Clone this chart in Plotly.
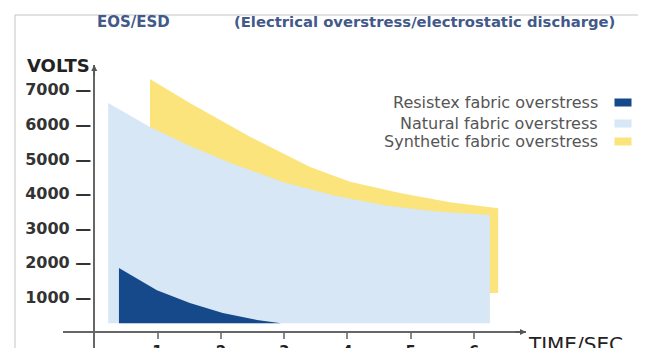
import plotly.graph_objects as go

# -------------------------
# DATA
# -------------------------
BASE_VOLTS = 250

natural_time = [0.22, 0.88, 1.5, 2.2, 3.0, 3.8, 4.6, 5.4, 6.25]
natural_volts = [6620, 5925, 5380, 4850, 4320, 3940, 3660, 3480, 3380]

synthetic_time = [0.88, 1.51, 2.46, 3.41, 4.04, 4.83, 5.62, 6.38]
synthetic_volts = [7310, 6620, 5640, 4770, 4340, 4020, 3750, 3580]
synthetic_low = 1130

resistex_time = [0.39, 0.99, 1.51, 2.03, 2.57, 2.95]
resistex_volts = [1850, 1210, 840, 550, 350, 250]

x_ticks = [1, 2, 3, 4, 5, 6]
y_ticks = [1000, 2000, 3000, 4000, 5000, 6000, 7000]

series_names = ['Resistex fabric overstress', 'Natural fabric overstress', 'Synthetic fabric overstress']
series_colors = ['#15498a', '#d7e7f6', '#fbe47c']

FONT = 'DejaVu Sans'


def closed_area(t, v, low):
    # top curve left -> right, then back along the bottom
    xs = [t[0]] + list(t) + [t[-1], t[0]]
    ys = [low] + list(v) + [low, low]
    return xs, ys


fig = go.Figure()

sx, sy = closed_area(synthetic_time, synthetic_volts, synthetic_low)
nx, ny = closed_area(natural_time, natural_volts, BASE_VOLTS)
rx, ry = closed_area(resistex_time, resistex_volts, BASE_VOLTS)

for xs, ys, name, color in [(sx, sy, series_names[2], series_colors[2]),
                            (nx, ny, series_names[1], series_colors[1]),
                            (rx, ry, series_names[0], series_colors[0])]:
    fig.add_trace(go.Scatter(
        x=xs, y=ys, name=name,
        mode='lines', fill='toself', fillcolor=color,
        line=dict(width=0, color=color),
        showlegend=False, hoverinfo='name'
    ))

# -------------------------
# TEXT / LEGEND
# -------------------------
ann = []
ann.append(dict(text='EOS/ESD', x=0.069, y=1.152, xref='paper', yref='paper',
                xanchor='left', yanchor='middle', showarrow=False,
                font=dict(family=FONT, size=15, color='#42598a', weight='bold')))
ann.append(dict(text='(Electrical overstress/electrostatic discharge)', x=0.365, y=1.152,
                xref='paper', yref='paper', xanchor='left', yanchor='middle', showarrow=False,
                font=dict(family=FONT, size=14.8, color='#42598a', weight='bold')))
ann.append(dict(text='VOLTS', x=0.0626, y=0.9965, xref='paper', yref='paper',
                xanchor='right', yanchor='middle', showarrow=False,
                font=dict(family=FONT, size=18, color='#222', weight='bold')))
ann.append(dict(text='TIME/SEC', x=1.0, y=0.065, xref='paper', yref='paper',
                xanchor='left', yanchor='top', showarrow=False,
                font=dict(family=FONT, size=20, color='#222')))

legend_y = [0.866, 0.795, 0.728]
for name, color, ly in zip(series_names, series_colors, legend_y):
    ann.append(dict(text=name, x=1.16, y=ly, xref='paper', yref='paper',
                    xanchor='right', yanchor='middle', showarrow=False,
                    font=dict(family=FONT, size=16, color='#555')))
    ann.append(dict(text='', x=1.2095, y=ly, xref='paper', yref='paper',
                    xanchor='center', yanchor='middle', showarrow=False,
                    width=16, height=7, bgcolor=color, borderpad=0))

# axis arrow heads
ann.append(dict(x=0, y=7717, xref='x', yref='y', ax=0, ay=12, text='',
                showarrow=True, arrowhead=2, arrowsize=0.8, arrowwidth=1.5, arrowcolor='#555'))
ann.append(dict(x=6.82, y=0, xref='x', yref='y', ax=-12, ay=0, text='',
                showarrow=True, arrowhead=2, arrowsize=0.8, arrowwidth=1.5, arrowcolor='#555'))

# outer frame (top-left corner of the clipped page)
shapes = [
    dict(type='line', xref='paper', yref='paper', x0=-0.1037, x1=-0.1037, y0=1.1767, y1=-0.05,
         line=dict(color='#c4c4c4', width=1)),
    dict(type='line', xref='paper', yref='paper', x0=-0.1037, x1=1.3, y0=1.1767, y1=1.1767,
         line=dict(color='#c4c4c4', width=1)),
]

# page body has an 8px margin, so the plot box is pulled up/left by 8px
fig.update_layout(
    width=646, height=348,
    margin=dict(l=55, r=128, t=57, b=8),
    paper_bgcolor='white', plot_bgcolor='white',
    showlegend=False,
    annotations=ann,
    shapes=shapes,
    xaxis=dict(
        range=[-0.494, 6.82], showgrid=False, automargin=False,
        zeroline=True, zerolinecolor='#666', zerolinewidth=1.5,
        anchor='free', position=0.0565,
        tickvals=x_ticks, ticktext=[str(t) for t in x_ticks],
        ticks='outside', ticklen=6, tickwidth=1.5, tickcolor='#888',
        tickfont=dict(family=FONT, size=15, color='#222', weight='bold'),
    ),
    yaxis=dict(
        range=[-462, 7717], showgrid=False, automargin=False,
        zeroline=True, zerolinecolor='#666', zerolinewidth=1.5,
        anchor='free', position=0.0676,
        tickvals=y_ticks, ticktext=[f'{v} —' for v in y_ticks],
        ticks='', ticklabelstandoff=3,
        tickfont=dict(family=FONT, size=16, color='#333', weight='bold'),
    ),
)

fig.write_html("out.html")
